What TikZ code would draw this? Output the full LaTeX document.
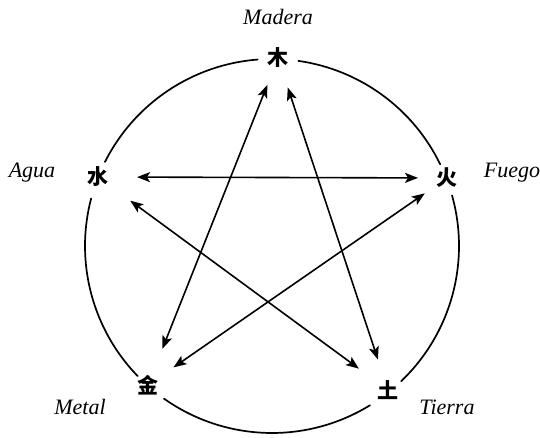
\documentclass[tikz,border=0pt]{standalone}
\usepackage{fontspec}
\setmainfont{Liberation Serif}
\newfontfamily\cjkfont{Noto Sans CJK SC}
\usetikzlibrary{arrows.meta}
\begin{document}
\begin{tikzpicture}[x=1pt,y=1pt,
  element/.style={font=\cjkfont\bfseries\fontsize{21}{21}\selectfont, inner sep=0pt},
  lbl/.style={font=\itshape\fontsize{22}{22}\selectfont, inner sep=0pt},
  ring/.style={line width=1.7pt, line cap=round},
  link/.style={line width=1.6pt, {Stealth[length=13pt,width=10pt,inset=3pt]}-{Stealth[length=13pt,width=10pt,inset=3pt]}}]
\useasboundingbox (0,0) rectangle (540,437);
\coordinate (c) at (272,191);
% elements
\node[element] (mu)   at (278,379) {木};
\node[element] (shui) at (98,260)  {水};
\node[element] (huo)  at (447,259) {火};
\node[element] (jin)  at (148,52)  {金};
\node[element] (tu)   at (388,47)  {土};
% labels
\node[lbl] (lmu)   at (278,420) {Madera};
\node[lbl] (lshui) at (32,264)  {Agua};
\node[lbl] (lhuo)  at (512,264) {Fuego};
\node[lbl] (ljin)  at (80,30)   {Metal};
\node[lbl] (ltu)   at (447,30)  {Tierra};
% ring arcs
\draw[ring] ([shift={(25.9:187)}]c) arc[start angle=25.9, end angle=81.9, radius=187];
\draw[ring] ([shift={(94.4:187)}]c) arc[start angle=94.4, end angle=153.3, radius=187];
\draw[ring] ([shift={(165.3:187)}]c) arc[start angle=165.3, end angle=224.1, radius=187];
\draw[ring] ([shift={(234.7:187)}]c) arc[start angle=234.7, end angle=301.6, radius=187];
\draw[ring] ([shift={(313.7:187)}]c) arc[start angle=313.7, end angle=375.7, radius=187];
% connectors
\draw[link, shorten <=39pt, shorten >=29pt] (shui.center) -- (huo.center);
\draw[link, shorten <=29pt, shorten >=39pt] (mu.center) -- (jin.center);
\draw[link, shorten <=31pt, shorten >=32pt] (mu.center) -- (tu.center);
\draw[link, shorten <=40pt, shorten >=36pt] (shui.center) -- (tu.center);
\draw[link, shorten <=27pt, shorten >=31pt] (huo.center) -- (jin.center);
\end{tikzpicture}
\end{document}
